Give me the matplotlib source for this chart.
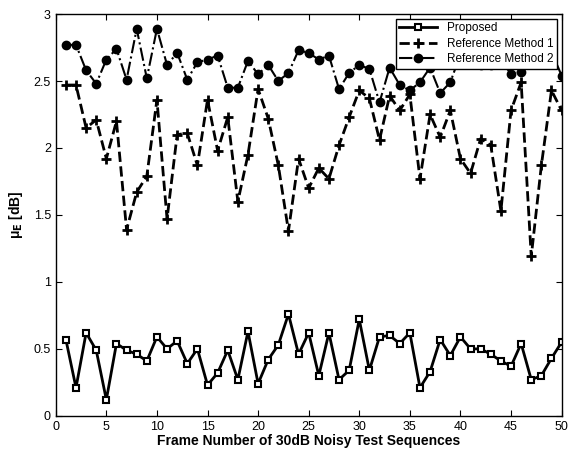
import numpy as np
import matplotlib
matplotlib.use('Agg')
import matplotlib.pyplot as plt

plt.rcParams['font.family'] = ['Liberation Sans', 'DejaVu Sans']

frames = np.arange(1, 51)

proposed = [0.57, 0.21, 0.62, 0.49, 0.12, 0.54, 0.49, 0.46, 0.41, 0.59,
            0.50, 0.56, 0.39, 0.50, 0.23, 0.32, 0.49, 0.27, 0.63, 0.24,
            0.42, 0.53, 0.76, 0.46, 0.62, 0.30, 0.62, 0.27, 0.34, 0.72,
            0.34, 0.59, 0.60, 0.54, 0.62, 0.21, 0.33, 0.57, 0.45, 0.59,
            0.50, 0.50, 0.46, 0.41, 0.37, 0.54, 0.27, 0.30, 0.43, 0.55]

ref1 = [2.47, 2.47, 2.15, 2.21, 1.92, 2.20, 1.39, 1.67, 1.79, 2.36,
        1.47, 2.10, 2.11, 1.87, 2.36, 1.98, 2.23, 1.60, 1.95, 2.44,
        2.22, 1.87, 1.38, 1.92, 1.70, 1.85, 1.77, 2.02, 2.23, 2.43,
        2.37, 2.06, 2.39, 2.28, 2.40, 1.77, 2.25, 2.08, 2.28, 1.92,
        1.81, 2.07, 2.02, 1.53, 2.28, 2.49, 1.19, 1.87, 2.43, 2.28]

ref2 = [2.77, 2.77, 2.58, 2.48, 2.66, 2.74, 2.51, 2.89, 2.52, 2.89,
        2.62, 2.71, 2.51, 2.64, 2.66, 2.69, 2.45, 2.45, 2.65, 2.55,
        2.62, 2.50, 2.56, 2.73, 2.71, 2.66, 2.69, 2.44, 2.56, 2.62,
        2.59, 2.34, 2.60, 2.47, 2.43, 2.49, 2.60, 2.41, 2.49, 2.70,
        2.68, 2.62, 2.62, 2.66, 2.55, 2.57, 2.75, 2.70, 2.72, 2.54]

fig = plt.figure(figsize=(5.69, 4.53), dpi=100)
ax = fig.add_axes([0.098, 0.082, 0.889, 0.887])

ax.plot(frames, proposed, '-', color='k', lw=2, marker='s', ms=5,
        mfc='white', mec='k', mew=1.5, label='Proposed')
ax.plot(frames, ref1, '--', color='k', lw=2, marker='+', ms=7,
        mew=2, label='Reference Method 1')
ax.plot(frames, ref2, '-.', color='k', lw=1.5, marker='o', ms=6,
        mfc='k', mec='k', label='Reference Method 2')

ax.set_xlim(0, 50)
ax.set_ylim(0, 3)
ax.set_xticks(np.arange(0, 51, 5))
ax.set_yticks([0, 0.5, 1, 1.5, 2, 2.5, 3])
ax.set_yticklabels(['0', '0.5', '1', '1.5', '2', '2.5', '3'])
ax.tick_params(direction='in', top=True, right=True, labelsize=9, length=4)
for s in ax.spines.values():
    s.set_linewidth(1)

ax.set_xlabel('Frame Number of 30dB Noisy Test Sequences', fontsize=10,
              fontweight='bold', labelpad=1)
ax.set_ylabel(r'μ$_\mathbf{E}$ [dB]', fontsize=10, fontweight='bold', labelpad=6)

leg = ax.legend(loc='upper right', fontsize=8.5, handlelength=3.2,
                frameon=True, fancybox=False, borderpad=0.3,
                labelspacing=0.3, borderaxespad=0.4)
leg.get_frame().set_edgecolor('k')
leg.get_frame().set_linewidth(1)
leg.get_frame().set_alpha(1)

fig.savefig('out.png', dpi=100)
